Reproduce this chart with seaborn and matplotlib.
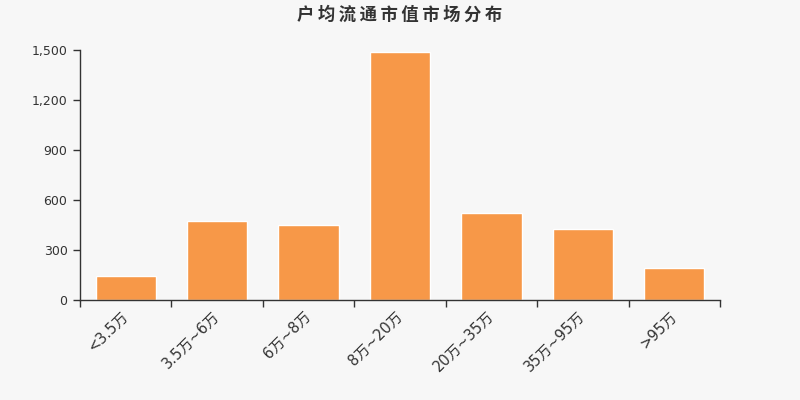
import matplotlib
matplotlib.use("Agg")
import matplotlib.pyplot as plt
import seaborn as sns
import pandas as pd
import numpy as np

# chart data
categories = ['<3.5万', '3.5万~6万', '6万~8万', '8万~20万', '20万~35万', '35万~95万', '>95万']
counts = [146, 476, 450, 1486, 522, 424, 190]
y_ticks = [0, 300, 600, 900, 1200, 1500]
title = '户均流通市值市场分布'

sns.set_theme(style="white")
plt.rcParams['font.family'] = ['DejaVu Sans', 'Noto Sans CJK SC']

bg = '#f7f7f7'
bar_color = '#f79848'
axis_color = '#333333'

df = pd.DataFrame({'cat': categories, 'count': counts})

fig = plt.figure(figsize=(8, 4), dpi=100, facecolor=bg)
ax = fig.add_axes([0.1, 0.25, 0.8, 0.625])
ax.set_facecolor(bg)

sns.barplot(data=df, x='cat', y='count', color=bar_color, saturation=1,
            width=0.66, ax=ax)

ax.set_xlim(-0.5, len(categories) - 0.5)
ax.set_ylim(0, 1500)
ax.set_yticks(y_ticks)
ax.set_yticklabels([f'{v:,}' for v in y_ticks], fontsize=9, color=axis_color)

# category labels at centers, tick marks at boundaries
ax.set_xticks(np.arange(len(categories)))
ax.set_xticklabels(categories, rotation=45, ha='right', va='center',
                   rotation_mode='anchor', fontsize=10.5, color=axis_color)
ax.set_xticks(np.arange(len(categories) + 1) - 0.5, minor=True)
ax.tick_params(axis='x', which='major', length=0, pad=10)
ax.tick_params(axis='x', which='minor', length=5, width=1, color=axis_color,
               direction='out', bottom=True)
ax.tick_params(axis='y', length=5, width=1, color=axis_color, direction='out',
               left=True, pad=4)

for s in ['top', 'right']:
    ax.spines[s].set_visible(False)
for s in ['left', 'bottom']:
    ax.spines[s].set_color(axis_color)
    ax.spines[s].set_linewidth(1)

ax.set_xlabel('')
ax.set_ylabel('')

fig.text(0.5, 0.963, '\u2009'.join(title), ha='center', va='center',
         fontsize=12.5, fontweight='bold', color=axis_color,
         family=['Noto Sans CJK SC', 'DejaVu Sans'])

fig.savefig('out.png', dpi=100, facecolor=bg)
